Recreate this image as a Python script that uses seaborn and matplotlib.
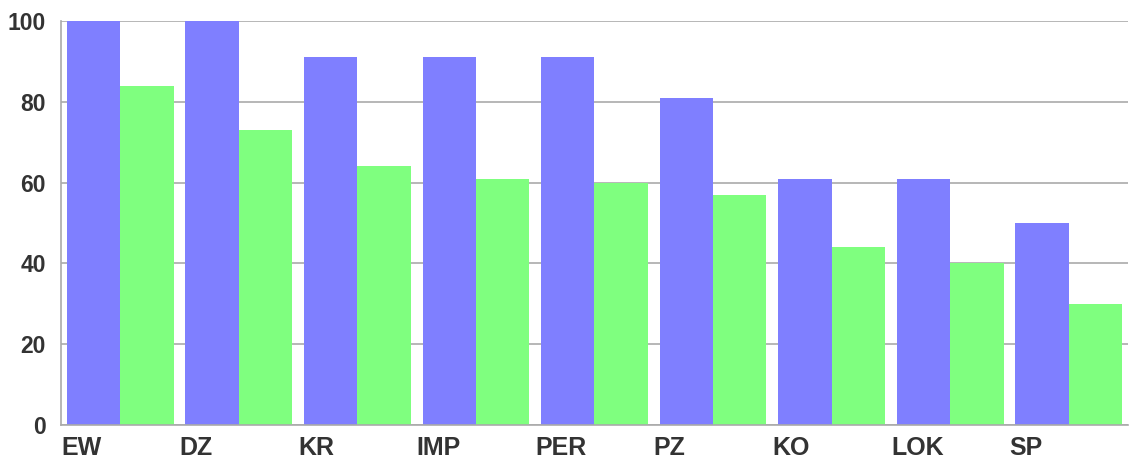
import matplotlib
matplotlib.use("Agg")
import matplotlib.pyplot as plt
import seaborn as sns
import numpy as np
import pandas as pd

categories = ["EW", "DZ", "KR", "IMP", "PER", "PZ", "KO", "LOK", "SP"]
series_a = [100, 100, 91, 91, 91, 81, 61, 61, 50]
series_b = [84, 73, 64, 61, 60, 57, 44, 40, 30]
y_ticks = [0, 20, 40, 60, 80, 100]

df = pd.DataFrame({
    "cat": categories * 2,
    "value": series_a + series_b,
    "series": ["A"] * len(categories) + ["B"] * len(categories),
})

sns.set_style("white")
plt.rcParams["font.family"] = ["Liberation Sans", "DejaVu Sans"]

fig = plt.figure(figsize=(11.3, 4.59), dpi=100)
ax = fig.add_axes([61 / 1130, 34 / 459, (1128 - 61) / 1130, (425 - 21) / 459])

sns.barplot(
    data=df, x="cat", y="value", hue="series", order=categories,
    palette={"A": "#7f7fff", "B": "#7fff7f"}, width=0.9,
    saturation=1, edgecolor="none", linewidth=0, legend=False, ax=ax,
)

grid_c = "#aaaaaa"
ax.set_ylim(0, 100)
ax.set_xlim(-0.5, len(categories) - 0.5)
ax.set_yticks(y_ticks)
ax.yaxis.grid(True, color=grid_c, linewidth=1.2)
ax.set_axisbelow(True)

# category labels sit left-aligned at the slot boundaries
bounds = np.arange(len(categories) + 1) - 0.5
ax.set_xticks(bounds, categories + [""], ha="left")

for s in ["top", "right"]:
    ax.spines[s].set_visible(False)
for s in ["left", "bottom"]:
    ax.spines[s].set_color(grid_c)
    ax.spines[s].set_linewidth(1.2)

ax.tick_params(axis="both", colors=grid_c, length=6, width=1.2,
               labelcolor="#333333")
ax.tick_params(axis="y", pad=5, labelsize=16.5)
ax.tick_params(axis="x", pad=2, labelsize=18)
for lbl in ax.get_xticklabels() + ax.get_yticklabels():
    lbl.set_fontweight("bold")

ax.set_xlabel("")
ax.set_ylabel("")

plt.savefig("out.png", dpi=100)
plt.close()
